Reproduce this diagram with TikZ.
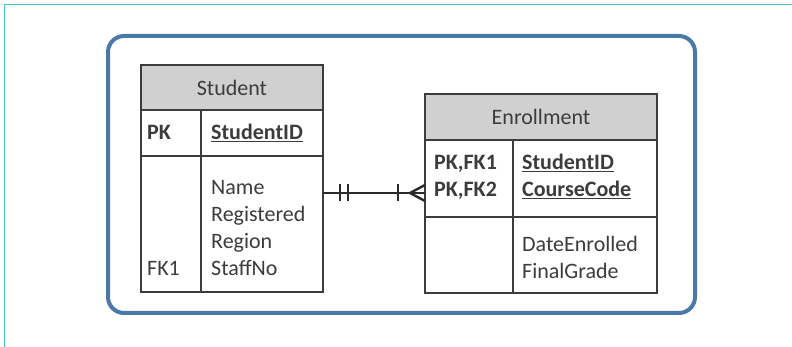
\documentclass[tikz,border=0pt]{standalone}
\usepackage{fontspec}
\setmainfont{Carlito}
\usepackage{tikz}
\usetikzlibrary{calc, positioning}
\definecolor{frameCyan}{HTML}{3CC8D0}
\definecolor{panelBlue}{HTML}{4A78A8}
\definecolor{tblInk}{HTML}{3C3C3C}
\definecolor{headGrey}{HTML}{D0D0D0}
\definecolor{linkInk}{HTML}{2A2A2A}
\tikzset{
  frame/.style = {draw=frameCyan, line width=1pt},
  panel/.style = {draw=panelBlue, line width=4pt, rounded corners=16pt, fill=white},
  tbl/.style   = {draw=tblInk, line width=1.6pt, fill=white, inner sep=0pt, outer sep=0pt},
  head/.style  = {tbl, fill=headGrey, font=\fontsize{22}{26}\selectfont, text=tblInk},
  rule/.style  = {draw=tblInk, line width=1.6pt},
  fld/.style   = {font=\fontsize{22}{26}\selectfont, text=tblInk, inner sep=0pt, anchor=base west},
  key/.style   = {fld, font=\fontsize{22}{26}\selectfont\bfseries},
  link/.style  = {draw=linkInk, line width=2.4pt}
}

\begin{document}
\begin{tikzpicture}[x=1pt, y=1pt]
  \useasboundingbox (0,0) rectangle (792,347);
  \draw[frame] (792,342) -- (4.5,342) -- (4.5,0);
  \node[panel, minimum width=587pt, minimum height=277pt, anchor=south west] (panel) at (106,32) {};

  % Student table
  \node[head, minimum width=182pt, minimum height=45pt, anchor=north west] (stuHead) at (141,282) {Student};
  \node[tbl, minimum width=182pt, minimum height=46pt, below=0pt of stuHead] (stuKey) {};
  \node[tbl, minimum width=182pt, minimum height=136pt, below=0pt of stuKey] (stuBody) {};
  \coordinate (stuCol) at ([xshift=60pt]stuKey.north west);
  \draw[rule] (stuCol) -- (stuCol |- stuBody.south);

  \node[key] (stuPK) at (147,207) {PK};
  \node[key] (stuId) at (211,207) {\underline{StudentID}};
  \node[fld] (stuName) at (211,152) {Name};
  \node[fld] (stuReg) at (211,125) {Registered};
  \node[fld] (stuRegion) at (211,98) {Region};
  \node[fld] (stuStaff) at (211,71) {StaffNo};
  \node[fld] (stuFK) at (147,71) {FK1};

  % Enrollment table
  \node[head, minimum width=232pt, minimum height=46pt, anchor=north west] (enrHead) at (425,253) {Enrollment};
  \node[tbl, minimum width=232pt, minimum height=77pt, below=0pt of enrHead] (enrKey) {};
  \node[tbl, minimum width=232pt, minimum height=76pt, below=0pt of enrKey] (enrBody) {};
  \coordinate (enrCol) at ([xshift=88pt]enrKey.north west);
  \draw[rule] (enrCol) -- (enrCol |- enrBody.south);

  \node[key] (enrPK1) at (434,177) {PK,FK1};
  \node[key] (enrPK2) at (434,150) {PK,FK2};
  \node[key] (enrStu) at (522,177) {\underline{StudentID}};
  \node[key] (enrCourse) at (522,150) {\underline{CourseCode}};
  \node[fld] (enrDate) at (522,95) {DateEnrolled};
  \node[fld] (enrGrade) at (522,68) {FinalGrade};

  % one-to-many link
  \coordinate (oneEnd) at ([yshift=31pt]stuBody.east);
  \coordinate (manyEnd) at (enrKey.west |- oneEnd);
  \draw[link] (oneEnd) -- (manyEnd);
  \draw[link] ([xshift=17pt, yshift=-8.5pt]oneEnd) -- ([xshift=17pt, yshift=8.5pt]oneEnd);
  \draw[link] ([xshift=25pt, yshift=-8.5pt]oneEnd) -- ([xshift=25pt, yshift=8.5pt]oneEnd);
  \draw[link] ([xshift=-27pt, yshift=-8.5pt]manyEnd) -- ([xshift=-27pt, yshift=8.5pt]manyEnd);
  \draw[link] ([yshift=8pt]manyEnd) -- ([xshift=-15pt]manyEnd) -- ([yshift=-8pt]manyEnd);
\end{tikzpicture}
\end{document}
